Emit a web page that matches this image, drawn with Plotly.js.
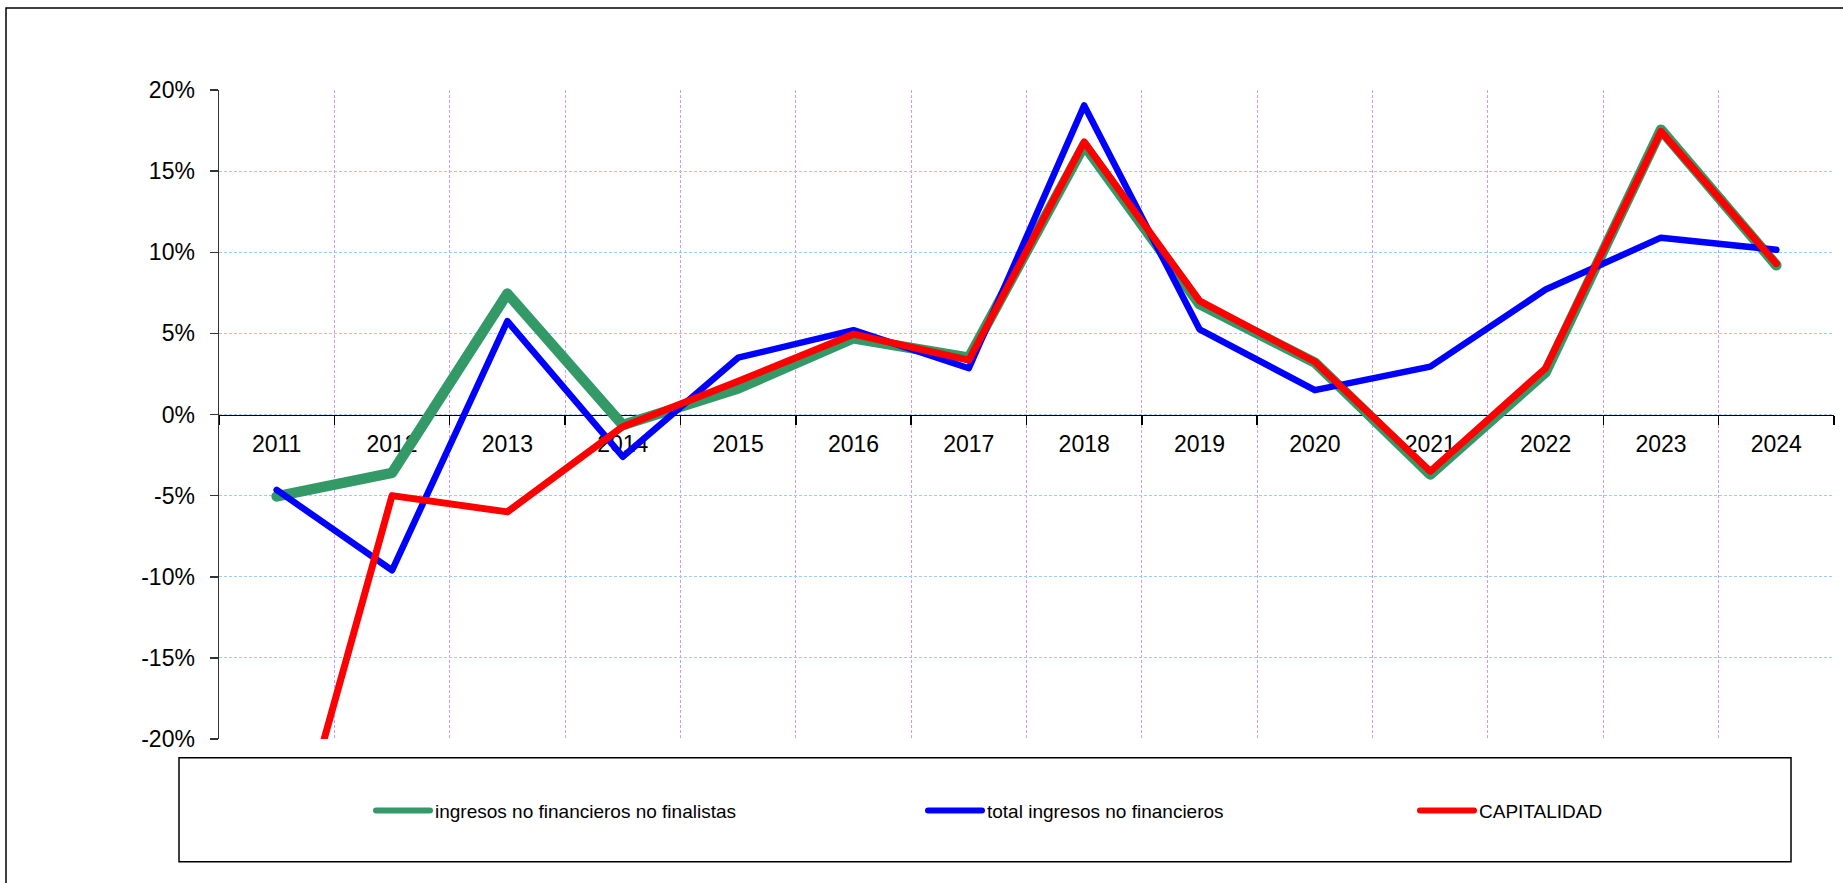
<!DOCTYPE html>
<html>
<head>
<meta charset="utf-8">
<script src="https://cdn.plot.ly/plotly-3.0.1.min.js"></script>
<style>
html, body { margin: 0; padding: 0; background: #ffffff; }
#chart { width: 1843px; height: 883px; }
.scatterlayer path.js-line { stroke-linejoin: round; stroke-linecap: round; }
.legendlines path { stroke-linecap: round; stroke-width: 6px !important; }
</style>
</head>
<body>
<div id="chart"></div>
<script>
// ---- data ----
const years = ['2011','2012','2013','2014','2015','2016','2017','2018','2019','2020','2021','2022','2023','2024'];
const ingresosNoFinalistas = [-5.05, -3.6, 7.45, -0.65, 1.6, 4.7, 3.5, 16.6, 6.8, 3.2, -3.7, 2.6, 17.55, 9.2];
const totalIngresos = [-4.65, -9.6, 5.75, -2.6, 3.5, 5.2, 2.85, 19.05, 5.25, 1.5, 2.95, 7.7, 10.9, 10.15];
const capitalidad = [-30.5, -5.0, -6.0, -0.75, 2.05, 4.95, 3.35, 16.8, 7.0, 3.25, -3.5, 2.85, 17.45, 9.3];
const seriesNames = ['ingresos no financieros no finalistas', 'total ingresos no financieros', 'CAPITALIDAD'];
const yTickVals = [-20, -15, -10, -5, 0, 5, 10, 15, 20];
const yTickText = ['-20%', '-15%', '-10%', '-5%', '0%', '5%', '10%', '15%', '20%'];

// ---- layout geometry (pixels) ----
const W = 1843, H = 883;
const L = 219, R = 1834, T = 90, B = 739.3;
const pw = R - L, ph = B - T;
const px = x => (x - L) / pw;
const py = y => (B - y) / ph;

const FONT = 'Liberation Sans, Arial, sans-serif';

const traces = [
  { x: years, y: ingresosNoFinalistas, name: seriesNames[0], type: 'scatter', mode: 'lines',
    line: { color: '#339966', width: 10.5 }, legend: 'legend' },
  { x: years, y: totalIngresos, name: seriesNames[1], type: 'scatter', mode: 'lines',
    line: { color: '#0000FF', width: 6.5 }, legend: 'legend2' },
  { x: years, y: capitalidad, name: seriesNames[2], type: 'scatter', mode: 'lines',
    line: { color: '#FF0000', width: 7 }, legend: 'legend3' }
];

const legendCommon = {
  orientation: 'h', xanchor: 'left', yanchor: 'middle',
  bgcolor: 'rgba(0,0,0,0)', borderwidth: 0,
  font: { family: FONT, size: 19, color: '#000' },
  itemwidth: 54
};

const layout = {
  width: W, height: H,
  margin: { l: L, r: W - R, t: T, b: H - B, pad: 0 },
  paper_bgcolor: '#ffffff', plot_bgcolor: '#ffffff',
  showlegend: true,
  xaxis: {
    type: 'category', range: [-0.5, 13.5],
    anchor: 'free', position: 0.5,
    showline: true, linecolor: '#000', linewidth: 1.5,
    ticks: 'outside', ticklen: 9, tickwidth: 1.5, tickcolor: '#000',
    tickson: 'boundaries',
    showgrid: true, gridcolor: '#C89BFF', gridwidth: 1, griddash: '3px,2px',
    layer: 'below traces',
    ticklabelstandoff: 8,
    tickfont: { family: FONT, size: 23, color: '#000' },
    fixedrange: true
  },
  yaxis: {
    range: [-20, 20], tickvals: yTickVals, ticktext: yTickText,
    showline: true, linecolor: '#333', linewidth: 1.5,
    ticks: 'outside', ticklen: 8, tickwidth: 1.5, tickcolor: '#333',
    showgrid: true, gridcolor: '#99CCFF', gridwidth: 1, griddash: '3px,2px',
    zeroline: false,
    ticklabelstandoff: 10,
    tickfont: { family: FONT, size: 23, color: '#000' },
    fixedrange: true
  },
  legend: Object.assign({}, legendCommon, { x: px(371), y: py(811) }),
  legend2: Object.assign({}, legendCommon, { x: px(923), y: py(811) }),
  legend3: Object.assign({}, legendCommon, { x: px(1415), y: py(811) }),
  shapes: [
    { type: 'rect', xref: 'paper', yref: 'paper', x0: px(6), x1: px(1870), y0: py(8), y1: py(910),
      line: { color: '#000', width: 1.5 }, fillcolor: 'rgba(0,0,0,0)', layer: 'below' },
    { type: 'rect', xref: 'paper', yref: 'paper', x0: px(179), x1: px(1791), y0: py(758), y1: py(862),
      line: { color: '#000', width: 1.5 }, fillcolor: 'rgba(0,0,0,0)', layer: 'below' }
  ]
};

Plotly.newPlot('chart', traces, layout, { displayModeBar: false, staticPlot: true });
</script>
</body>
</html>
